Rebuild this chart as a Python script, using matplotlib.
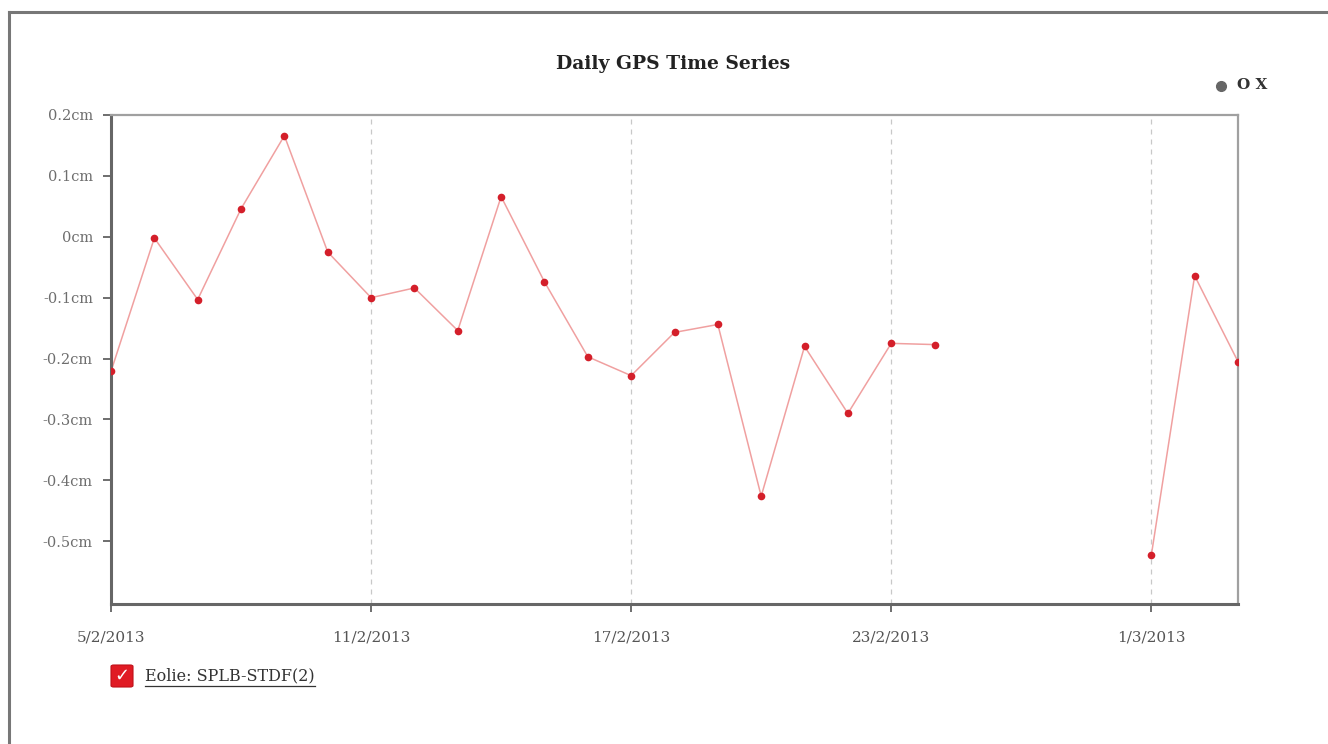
import datetime as dt
import numpy as np
import matplotlib
matplotlib.use("Agg")
import matplotlib.pyplot as plt
from matplotlib.patches import FancyBboxPatch

# Daily displacement (cm), 5 Feb – 3 Mar 2013; NaN marks missing days
start = dt.date(2013, 2, 5)
values = [-0.221, -0.002, -0.103, 0.046, 0.166, -0.025, -0.100, -0.084,
          -0.154, 0.066, -0.074, -0.197, -0.228, -0.157, -0.144, -0.426,
          -0.180, -0.290, -0.175, -0.177, np.nan, np.nan, np.nan, np.nan,
          -0.523, -0.064, -0.205]
dates = [start + dt.timedelta(days=i) for i in range(len(values))]

tick_dates = [dt.date(2013, 2, 5), dt.date(2013, 2, 11), dt.date(2013, 2, 17),
              dt.date(2013, 2, 23), dt.date(2013, 3, 1)]
tick_labels = ["5/2/2013", "11/2/2013", "17/2/2013", "23/2/2013", "1/3/2013"]
y_ticks = [0.2, 0.1, 0.0, -0.1, -0.2, -0.3, -0.4, -0.5]
y_labels = ["0.2cm", "0.1cm", "0cm", "-0.1cm", "-0.2cm", "-0.3cm", "-0.4cm", "-0.5cm"]

title = "Daily GPS Time Series"
series_name = "Eolie: SPLB-STDF(2)"

plt.rcParams["font.family"] = ["DejaVu Serif"]

fig = plt.figure(figsize=(13.28, 7.44), dpi=100)
W, H = 1328, 744

def fx(px):
    return px / W

def fy(py):
    return 1 - py / H

# outer panel border
fig.add_artist(plt.Line2D([fx(9), fx(9)], [fy(12), 0], color="#777777", lw=2.2,
                          transform=fig.transFigure))
fig.add_artist(plt.Line2D([fx(9), 1], [fy(12), fy(12)], color="#777777", lw=2.2,
                          transform=fig.transFigure))

ax = fig.add_axes([fx(111), fy(604), fx(1238) - fx(111), fy(115) - fy(604)])

ax.plot(dates, values, color="#f0a0a0", lw=1.1, zorder=2)
ax.plot(dates, values, linestyle="none", marker="o", markersize=5.5,
        color="#d41f2a", markeredgewidth=0, zorder=3)

ax.set_xlim(dt.date(2013, 2, 5), dt.date(2013, 3, 3))
ax.set_ylim(-0.603, 0.2)

ax.set_xticks(tick_dates)
ax.set_xticklabels(tick_labels)
ax.set_yticks(y_ticks)
ax.set_yticklabels(y_labels)

for d in tick_dates[1:]:
    ax.axvline(d, color="#c8c8c8", lw=0.9, linestyle=(0, (4, 4)), zorder=1)

for s in ["left", "bottom"]:
    ax.spines[s].set_color("#666666")
    ax.spines[s].set_linewidth(2.2)
for s in ["top", "right"]:
    ax.spines[s].set_color("#a0a0a0")
    ax.spines[s].set_linewidth(1.6)

ax.tick_params(axis="both", direction="out", length=6, width=1.2, color="#555555")
ax.tick_params(axis="y", labelsize=10.5, labelcolor="#6e6e6e", pad=7)
ax.tick_params(axis="x", labelsize=11, labelcolor="#555555", pad=13)

fig.text(fx(673), fy(64), title, ha="center", va="center", fontsize=13.5,
         fontweight="bold", color="#222222")

# top-right toolbar: small icon and "O X"
fig.add_artist(plt.Line2D([fx(1221)], [fy(86)], marker="o", markersize=7,
                          color="#666666", transform=fig.transFigure))
fig.text(fx(1252), fy(85), "O X", ha="center", va="center", fontsize=11,
         fontweight="bold", color="#333333")

# legend: checkbox + underlined series name
fig.add_artist(FancyBboxPatch((fx(111), fy(687)), fx(22), fy(665) - fy(687),
                              boxstyle="round,pad=0,rounding_size=0.002",
                              facecolor="#e01b24", edgecolor="#c01018", lw=0.8,
                              transform=fig.transFigure))
fig.text(fx(122), fy(676), "\u2713", ha="center", va="center", fontsize=13,
         fontweight="bold", color="white", family=["DejaVu Sans"])
t = fig.text(fx(145), fy(676), series_name, ha="left", va="center", fontsize=11.5,
             color="#333333")
fig.canvas.draw()
bb = t.get_window_extent().transformed(fig.transFigure.inverted())
fig.add_artist(plt.Line2D([bb.x0, bb.x1], [fy(686), fy(686)], color="#333333",
                          lw=0.9, transform=fig.transFigure))

fig.savefig("out.png", dpi=100)
